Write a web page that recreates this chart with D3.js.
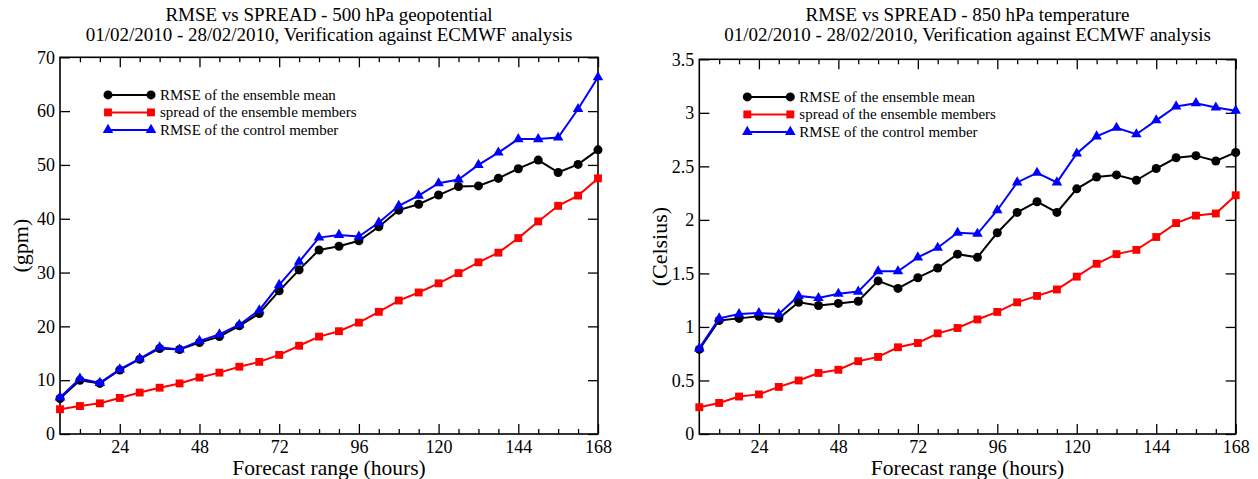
<!DOCTYPE html>
<html>
<head>
<meta charset="utf-8">
<script src="https://cdn.jsdelivr.net/npm/d3@7"></script>
<style>
  html, body { margin: 0; padding: 0; background: #fff; }
  svg { display: block; }
  text { font-family: "Liberation Serif", "Times New Roman", serif; fill: #000; }
</style>
</head>
<body>
<svg id="chart" width="1258" height="479"></svg>
<script>
// Forecast steps (hours)
const hours = [6, 12, 18, 24, 30, 36, 42, 48, 54, 60, 66, 72, 78, 84, 90, 96,
               102, 108, 114, 120, 126, 132, 138, 144, 150, 156, 162, 168];
const majorHourTicks = [24, 48, 72, 96, 120, 144, 168];
const minorHourTicks = [12, 18, 30, 36, 42, 54, 60, 66, 78, 84, 90, 102, 108, 114,
                        126, 132, 138, 150, 156, 162];

// 500 hPa geopotential (gpm)
const z500Mean = [6.6, 10.0, 9.4, 11.9, 13.9, 15.9, 15.7, 17.0, 18.1, 20.1, 22.4, 26.6, 30.5, 34.2,
                  34.9, 35.9, 38.5, 41.6, 42.7, 44.4, 46.0, 46.1, 47.5, 49.3, 50.9, 48.6, 50.1, 52.8];
const z500Spread = [4.6, 5.2, 5.7, 6.7, 7.7, 8.6, 9.4, 10.5, 11.4, 12.5, 13.4, 14.7, 16.4, 18.1,
                    19.1, 20.7, 22.7, 24.8, 26.3, 28.0, 29.9, 31.9, 33.7, 36.4, 39.5, 42.4, 44.3, 47.5];
const z500Control = [6.8, 10.3, 9.5, 12.0, 14.0, 16.1, 15.7, 17.3, 18.5, 20.3, 23.0, 27.7, 32.0, 36.5,
                     37.0, 36.7, 39.3, 42.4, 44.3, 46.6, 47.3, 50.0, 52.3, 54.8, 54.8, 55.1, 60.4, 66.3];
const z500Ticks = [0, 10, 20, 30, 40, 50, 60, 70];

// 850 hPa temperature (Celsius)
const t850Mean = [0.79, 1.06, 1.08, 1.10, 1.08, 1.23, 1.20, 1.22, 1.24, 1.43, 1.36, 1.46, 1.55, 1.68,
                  1.65, 1.88, 2.07, 2.17, 2.07, 2.29, 2.40, 2.42, 2.37, 2.48, 2.58, 2.60, 2.55, 2.63];
const t850Spread = [0.25, 0.29, 0.35, 0.37, 0.44, 0.50, 0.57, 0.60, 0.68, 0.72, 0.81, 0.85, 0.94, 0.99,
                    1.07, 1.14, 1.23, 1.29, 1.35, 1.47, 1.59, 1.68, 1.72, 1.84, 1.97, 2.04, 2.06, 2.23];
const t850Control = [0.80, 1.08, 1.12, 1.13, 1.12, 1.29, 1.27, 1.31, 1.33, 1.52, 1.52, 1.65, 1.74, 1.88,
                     1.87, 2.09, 2.35, 2.44, 2.35, 2.62, 2.78, 2.86, 2.80, 2.93, 3.06, 3.09, 3.05, 3.02];
const t850Ticks = [0, 0.5, 1, 1.5, 2, 2.5, 3, 3.5];

const seriesNames = ["RMSE of the ensemble mean", "spread of the ensemble members", "RMSE of the control member"];
const seriesColors = ["#000000", "#ff0000", "#0000ff"];
const seriesSymbols = [d3.symbolCircle, d3.symbolSquare, d3.symbolTriangle];
const seriesSymbolSizes = [64, 62, 48];

const subtitle = "01/02/2010 - 28/02/2010, Verification against ECMWF analysis";

const panels = [
  {
    title: "RMSE vs SPREAD - 500 hPa geopotential",
    yLabel: "(gpm)",
    box: { left: 60, right: 598, top: 57.3, bottom: 434 },
    yMax: 70, yTicks: z500Ticks,
    series: [z500Mean, z500Spread, z500Control]
  },
  {
    title: "RMSE vs SPREAD - 850 hPa temperature",
    yLabel: "(Celsius)",
    box: { left: 699.3, right: 1235.7, top: 59.3, bottom: 434 },
    yMax: 3.5, yTicks: t850Ticks,
    series: [t850Mean, t850Spread, t850Control]
  }
];

const svg = d3.select("#chart");
const fmt = d3.format("~g");

panels.forEach(p => {
  const b = p.box;
  const x = d3.scaleLinear().domain([6, 168]).range([b.left, b.right]);
  const y = d3.scaleLinear().domain([0, p.yMax]).range([b.bottom, b.top]);
  const g = svg.append("g");
  const cx = (b.left + b.right) / 2;

  // titles
  g.append("text").attr("x", cx).attr("y", 21).attr("text-anchor", "middle")
    .style("font-size", "19px").text(p.title);
  g.append("text").attr("x", cx).attr("y", 41).attr("text-anchor", "middle")
    .style("font-size", "19px").text(subtitle);

  // axes: ticks point inward on all four sides
  const axisStyle = sel => {
    sel.selectAll(".domain").remove();
    sel.selectAll(".tick line").attr("stroke", "#000").attr("stroke-width", 1.3);
    sel.selectAll(".tick text").style("font-size", "18px").attr("fill", "#000");
  };

  g.append("g").attr("transform", `translate(0,${b.bottom})`)
    .call(d3.axisBottom(x).tickValues(majorHourTicks).tickSizeInner(-10).tickSizeOuter(0).tickPadding(6))
    .call(axisStyle);
  g.append("g").attr("transform", `translate(0,${b.bottom})`)
    .call(d3.axisBottom(x).tickValues(minorHourTicks).tickSizeInner(-5).tickSizeOuter(0).tickFormat(""))
    .call(axisStyle);
  g.append("g").attr("transform", `translate(0,${b.top})`)
    .call(d3.axisTop(x).tickValues(majorHourTicks).tickSizeInner(-10).tickSizeOuter(0).tickFormat(""))
    .call(axisStyle);
  g.append("g").attr("transform", `translate(0,${b.top})`)
    .call(d3.axisTop(x).tickValues(minorHourTicks).tickSizeInner(-5).tickSizeOuter(0).tickFormat(""))
    .call(axisStyle);
  g.append("g").attr("transform", `translate(${b.left},0)`)
    .call(d3.axisLeft(y).tickValues(p.yTicks).tickSizeInner(-10).tickSizeOuter(0).tickPadding(5).tickFormat(fmt))
    .call(axisStyle);
  g.append("g").attr("transform", `translate(${b.right},0)`)
    .call(d3.axisRight(y).tickValues(p.yTicks).tickSizeInner(-10).tickSizeOuter(0).tickFormat(""))
    .call(axisStyle);

  // frame
  g.append("rect").attr("x", b.left).attr("y", b.top)
    .attr("width", b.right - b.left).attr("height", b.bottom - b.top)
    .attr("fill", "none").attr("stroke", "#000").attr("stroke-width", 1.6);

  // axis titles
  g.append("text").attr("x", cx).attr("y", 475).attr("text-anchor", "middle")
    .style("font-size", "21.5px").text("Forecast range (hours)");
  g.append("text").attr("transform", `translate(${b.left - 32},${(b.top + b.bottom) / 2}) rotate(-90)`)
    .attr("text-anchor", "middle").style("font-size", "22px").text(p.yLabel);

  // data series
  const line = d3.line().x((d, i) => x(hours[i])).y(d => y(d));
  p.series.forEach((vals, k) => {
    const sg = g.append("g");
    sg.append("path").datum(vals).attr("d", line)
      .attr("fill", "none").attr("stroke", seriesColors[k]).attr("stroke-width", 2);
    sg.selectAll("path.pt").data(vals).join("path").attr("class", "pt")
      .attr("transform", (d, i) => `translate(${x(hours[i])},${y(d)})`)
      .attr("d", d3.symbol().type(seriesSymbols[k]).size(seriesSymbolSizes[k]))
      .attr("fill", seriesColors[k]);
  });

  // legend
  const lg = g.append("g");
  seriesNames.forEach((name, k) => {
    const ly = b.top + 37.6 + k * 17.5;
    const x0 = b.left + 48, x1 = b.left + 91;
    lg.append("line").attr("x1", x0).attr("x2", x1).attr("y1", ly).attr("y2", ly)
      .attr("stroke", seriesColors[k]).attr("stroke-width", 2);
    [x0, x1].forEach(px => {
      lg.append("path").attr("transform", `translate(${px},${ly})`)
        .attr("d", d3.symbol().type(seriesSymbols[k]).size(seriesSymbolSizes[k]))
        .attr("fill", seriesColors[k]);
    });
    lg.append("text").attr("x", b.left + 100).attr("y", ly).attr("dy", "0.33em")
      .style("font-size", "15px").text(name);
  });
});
</script>
</body>
</html>
